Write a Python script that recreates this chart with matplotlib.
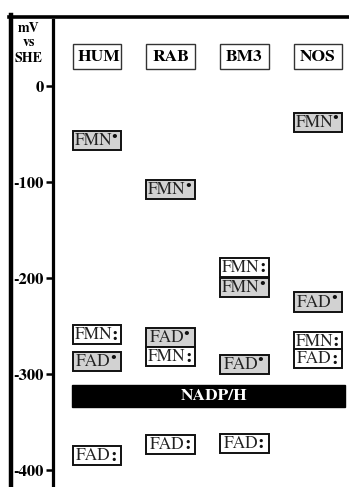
import matplotlib
matplotlib.use('Agg')
import matplotlib.pyplot as plt
from matplotlib.patches import Rectangle
from matplotlib.lines import Line2D

plt.rcParams['mathtext.fontset'] = 'stix'
plt.rcParams['font.family'] = 'STIXGeneral'

# enzymes across the top
columns = ['HUM', 'RAB', 'BM3', 'NOS']

# one entry per redox couple box
box_column = [0, 0, 0, 0,
              1, 1, 1, 1,
              2, 2, 2, 2,
              3, 3, 3, 3]
box_cofactor = ['FMN', 'FMN', 'FAD', 'FAD',
                'FMN', 'FAD', 'FMN', 'FAD',
                'FMN', 'FMN', 'FAD', 'FAD',
                'FMN', 'FAD', 'FMN', 'FAD']
# 'sq' = semiquinone (dot, grey box), 'hq' = hydroquinone (colon, white box)
box_state = ['sq', 'hq', 'sq', 'hq',
             'sq', 'sq', 'hq', 'hq',
             'hq', 'sq', 'sq', 'hq',
             'sq', 'sq', 'hq', 'hq']
box_potential = [-57, -259, -287, -385,
                 -108, -262, -282, -373,
                 -189, -210, -290, -372,
                 -38, -225, -266, -284]

nadph_potential = -323
y_ticks = [0, -100, -200, -300, -400]

W, H = 349, 487
fig = plt.figure(figsize=(W / 100, H / 100), dpi=100)
fig.patch.set_facecolor('white')

# axes: left spine at x=53 px, top at y=20 px
ax = fig.add_axes([53 / W, 0, 1 - 53 / W, 1 - 20 / H])
ax.set_facecolor('none')
ax.set_ylim(-(H - 86) / 0.96, (86 - 20) / 0.96)
ax.set_xlim(-44 / 73.7, (W - 97) / 73.7)
for s in ['top', 'right', 'bottom']:
    ax.spines[s].set_visible(False)
ax.spines['left'].set_linewidth(1.6)
ax.set_xticks([])
ax.set_yticks(y_ticks)
ax.set_yticklabels([str(t) for t in y_ticks], fontsize=12, fontweight='bold')
ax.tick_params(axis='y', length=5, width=1.8, pad=1.5, color='black')

# the vertical potential axis line itself
fig.add_artist(Line2D([53.5 / W, 53.5 / W], [0, 1 - 20 / H], color='black',
                      lw=1.6, transform=fig.transFigure, zorder=6))

fig.canvas.draw()
renderer = fig.canvas.get_renderer()

bw, bh = 0.66, 19.8
for c, cof, st, v in zip(box_column, box_cofactor, box_state, box_potential):
    fc = '#d2d2d2' if st == 'sq' else 'white'
    ax.add_patch(Rectangle((c - bw / 2, v - bh / 2), bw, bh, facecolor=fc,
                           edgecolor='#111111', lw=1.4, zorder=3))
    # name, then the radical mark right after it
    t = ax.text(c - 0.05, v - 0.8, cof, ha='center', va='center',
                fontsize=12.5, color='#222222', zorder=4)
    ext = t.get_window_extent(renderer)
    xe = ax.transData.inverted().transform((ext.x1, 0))[0]
    if st == 'sq':
        ax.text(xe - 0.01, v + 5, '\u2022', ha='left', va='center',
                fontsize=8, color='#111111', zorder=4)
    else:
        ax.text(xe - 0.005, v - 0.5, ':', ha='left', va='center',
                fontsize=14, fontweight='bold', color='#111111', zorder=4)

# column headers
for i, name in enumerate(columns):
    ax.add_patch(Rectangle((i - 0.33, 31 - 13), 0.66, 26, facecolor='white',
                           edgecolor='#333333', lw=1.0, zorder=3))
    ax.text(i + 0.03 * (i == 0), 30.5, name, ha='center', va='center',
            fontsize=12.5, fontweight='bold', zorder=4)

# NADP/H bar
x0, x1 = -25 / 73.7, 248 / 73.7
ax.add_patch(Rectangle((x0, nadph_potential - 11.5), x1 - x0, 23,
                       facecolor='black', edgecolor='black', zorder=3))
ax.text((x0 + x1) / 2 + 0.08, nadph_potential, 'NADP/H', ha='center',
        va='center', color='white', fontsize=12.5, fontweight='bold', zorder=4)

# axis unit label
for txt, yp in [('mV', 29), ('vs', 43), ('SHE', 58)]:
    fig.text(28.5 / W, 1 - yp / H, txt, ha='center', va='center',
             fontsize=10, fontweight='bold')

# scanned frame: top and left black borders
fig.add_artist(Line2D([9 / W, 1], [1 - 16.5 / H, 1 - 16.5 / H],
                      color='black', lw=2.6, transform=fig.transFigure))
fig.add_artist(Line2D([11 / W, 11 / W], [0, 1 - 15 / H],
                      color='black', lw=3.2, transform=fig.transFigure))

fig.savefig('out.png', dpi=100)
